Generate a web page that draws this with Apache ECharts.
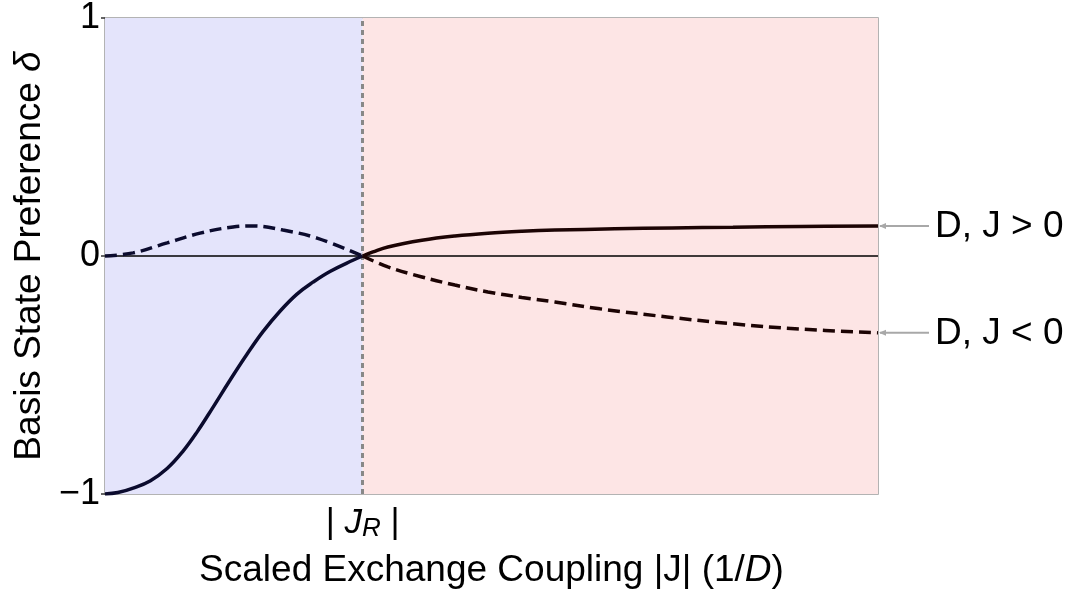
<!DOCTYPE html>
<html><head><meta charset="utf-8">
<script src="https://cdn.jsdelivr.net/npm/echarts@6/dist/echarts.min.js"></script>
<style>html,body{margin:0;padding:0;background:#fff}#c{width:1073px;height:598px}</style>
</head><body><div id="c"></div>
<script>
// x in units where |J_R| = 1
const jR = 1;
const xMin = 0, xMax = 3;
const yTicks = [-1, 0, 1];
const solidLeftX = [0, 0.05, 0.109, 0.175, 0.241, 0.303, 0.357, 0.419, 0.485, 0.551, 0.613, 0.679, 0.745, 0.807, 0.873, 0.962, 1.0];
const solidLeftY = [-1, -0.994, -0.975, -0.945, -0.893, -0.820, -0.740, -0.636, -0.522, -0.413, -0.318, -0.232, -0.160, -0.110, -0.065, -0.018, 0];
const solidRightX = [1.0, 1.04, 1.098, 1.23, 1.358, 1.486, 1.618, 1.746, 1.979, 2.2, 2.437, 2.7, 3.0];
const solidRightY = [0, 0.017, 0.038, 0.066, 0.084, 0.096, 0.104, 0.109, 0.114, 0.118, 0.121, 0.124, 0.126];
const dashLeftX = [0, 0.109, 0.241, 0.369, 0.497, 0.574, 0.691, 0.823, 1.0];
const dashLeftY = [0, 0.013, 0.055, 0.096, 0.122, 0.126, 0.109, 0.075, 0];
const dashRightX = [1.0, 1.098, 1.23, 1.358, 1.486, 1.618, 1.746, 1.921, 2.181, 2.437, 2.697, 3.0];
const dashRightY = [0, -0.046, -0.088, -0.122, -0.151, -0.174, -0.193, -0.222, -0.256, -0.285, -0.307, -0.323];
const annotations = [
  {label: 'D, J > 0', y: solidRightY[solidRightY.length - 1]},
  {label: 'D, J < 0', y: dashRightY[dashRightY.length - 1]}
];

const zip = (xs, ys) => xs.map((x, i) => [x, ys[i]]);
const FONT = 'Liberation Sans, Arial, sans-serif';
const leftColor = '#0b0b2e';
const rightColor = '#1c0404';

const chart = echarts.init(document.getElementById('c'), null, {renderer: 'canvas'});
const lineSeries = (data, color, type) => ({
  type: 'line', data, smooth: 0.4, symbol: 'none', z: 5,
  lineStyle: {color, width: 3.5, type: type === 'dashed' ? [12, 6] : 'solid'}
});
chart.setOption({
  animation: false,
  grid: {left: 105, right: 195, top: 17, bottom: 104, show: true, borderColor: '#9a9a9a', borderWidth: 1.5, backgroundColor: 'transparent'},
  xAxis: {
    type: 'value', min: xMin, max: xMax, interval: 1,
    axisLine: {show: false}, splitLine: {show: false},
    axisTick: {show: true, inside: true, length: 4, lineStyle: {color: '#888', width: 2}, customValues: [jR]},
    axisLabel: {
      customValues: [jR], margin: 10, color: '#000', fontFamily: FONT, fontSize: 35,
      formatter: () => '{a|| }{i|J}{s|R}{a| |}',
      rich: {
        a: {fontSize: 35, fontFamily: FONT, color: '#000'},
        i: {fontSize: 35, fontFamily: FONT, fontStyle: 'italic', color: '#000'},
        s: {fontSize: 26, fontFamily: FONT, fontStyle: 'italic', color: '#000', verticalAlign: 'bottom', padding: [12, 0, 0, 0]}
      }
    },
    name: '{a|Scaled Exchange Coupling |J| (1/}{i|D}{a|)}',
    nameLocation: 'middle', nameGap: 58,
    nameTextStyle: {
      rich: {
        a: {fontSize: 37, fontFamily: FONT, color: '#000'},
        i: {fontSize: 37, fontFamily: FONT, fontStyle: 'italic', color: '#000'}
      }
    }
  },
  yAxis: {
    type: 'value', min: -1, max: 1, interval: 1,
    axisLine: {show: false}, splitLine: {show: false},
    axisTick: {show: true, inside: false, length: 4, lineStyle: {color: '#333', width: 1.5}},
    axisLabel: {
      margin: 5, color: '#000', fontSize: 36, fontFamily: FONT,
      formatter: v => yTicks.includes(v) ? String(v).replace('-', '\u2212') : ''
    },
    name: '{a|Basis State Preference }{i|δ}',
    nameLocation: 'middle', nameGap: 56, nameRotate: 90,
    nameTextStyle: {
      rich: {
        a: {fontSize: 37, fontFamily: FONT, color: '#000'},
        i: {fontSize: 37, fontFamily: FONT, fontStyle: 'italic', color: '#000'}
      }
    }
  },
  series: [
    {
      type: 'line', data: [], z: 1, silent: true,
      markArea: {
        silent: true,
        data: [
          [{coord: [xMin, -1], itemStyle: {color: '#e4e4fb'}}, {coord: [jR, 1]}],
          [{coord: [jR, -1], itemStyle: {color: '#fde5e5'}}, {coord: [xMax, 1]}]
        ]
      },
      markLine: {
        silent: true, symbol: 'none', label: {show: false},
        data: [
          {yAxis: 0, lineStyle: {color: '#000', width: 1.5, type: 'solid'}},
          {xAxis: jR, lineStyle: {color: '#888', width: 3, type: [5, 4]}}
        ]
      }
    },
    lineSeries(zip(solidLeftX, solidLeftY), leftColor, 'solid'),
    lineSeries(zip(solidRightX, solidRightY), rightColor, 'solid'),
    lineSeries(zip(dashLeftX, dashLeftY), leftColor, 'dashed'),
    lineSeries(zip(dashRightX, dashRightY), rightColor, 'dashed')
  ]
});

// annotations placed through the chart's own coordinate conversion
const graphics = [];
annotations.forEach(a => {
  const p = chart.convertToPixel({gridIndex: 0}, [xMax, a.y]);
  const x0 = p[0] + 2, x1 = p[0] + 51, y = p[1];
  graphics.push({type: 'line', shape: {x1: x0, y1: y, x2: x1, y2: y}, style: {stroke: '#a8a8a8', lineWidth: 2}, z: 10});
  graphics.push({type: 'polygon', shape: {points: [[x0 - 1, y], [x0 + 6, y - 3], [x0 + 6, y + 3]]}, style: {fill: '#a8a8a8'}, z: 10});
  graphics.push({type: 'text', x: x1 + 6, y: y + 1, style: {text: a.label, font: '37px ' + FONT, fill: '#000', textVerticalAlign: 'middle', verticalAlign: 'middle'}, z: 10});
});
chart.setOption({graphic: graphics});
</script></body></html>
